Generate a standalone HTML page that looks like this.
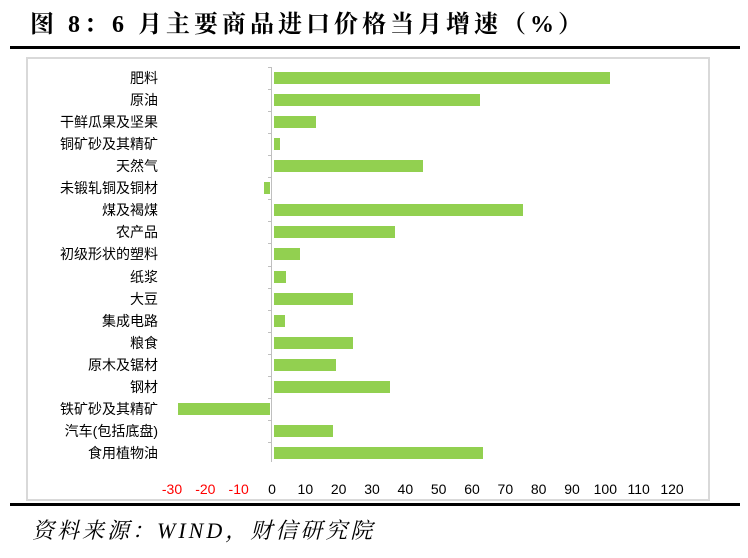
<!DOCTYPE html>
<html><head><meta charset="utf-8"><style>
body{margin:0;width:748px;height:558px;background:#fff;position:relative;overflow:hidden;font-family:"Liberation Sans","Noto Sans CJK SC",sans-serif;}
.t{position:absolute;left:30px;top:9px;font-family:"Liberation Serif","Noto Serif CJK SC",serif;font-weight:bold;font-size:24px;line-height:32px;color:#000;letter-spacing:4px;}
.hl{position:absolute;left:10px;width:730px;height:3px;background:#000;}
.box{position:absolute;left:26px;top:57px;width:684px;height:444px;border:2px solid #d9d9d9;box-sizing:border-box;}
.lab{position:absolute;font-size:14px;color:#000;white-space:nowrap;line-height:16px;}
.bar{position:absolute;height:12px;background:#92d050;}
.tk{position:absolute;top:481px;font-size:14px;width:40px;text-align:center;margin-left:-20px;}
.cap{position:absolute;left:32px;top:514px;font-family:"Liberation Serif","Noto Serif CJK SC",serif;font-style:italic;font-size:22px;letter-spacing:3px;}
</style></head><body>
<div class="t">图 8：6 月主要商品进口价格当月增速（%）</div>
<div class="hl" style="top:46px"></div>
<div class="box"></div>
<div class="hl" style="top:503px"></div>
<div style="position:absolute;left:271px;top:67px;width:1px;height:395px;background:#bfbfbf"></div>
<div id="c"></div>
<div class="cap">资料来源：WIND，财信研究院</div>
<script>
var d=[["肥料",101],["原油",62],["干鲜瓜果及坚果",13],["铜矿砂及其精矿",2],["天然气",45],["未锻轧铜及铜材",-2],["煤及褐煤",75],["农产品",36.5],["初级形状的塑料",8],["纸浆",4],["大豆",24],["集成电路",3.5],["粮食",24],["原木及锯材",19],["钢材",35],["铁矿砂及其精矿",-28],["汽车(包括底盘)",18],["食用植物油",63]];
var h="",z=272,s=500/150;
d.forEach(function(r,i){var y=78+i*22.06;
h+='<div class="lab" style="top:'+(y-8)+'px;right:'+(748-158)+'px">'+r[0]+'</div>';
var x=r[1]>=0?z+2:z+r[1]*s-1,w=Math.abs(r[1])*s-1;
h+='<div class="bar" style="top:'+(y-6)+'px;left:'+x+'px;width:'+w+'px"></div>';
h+='<div style="position:absolute;left:268px;top:'+(y-11)+'px;width:4px;height:1px;background:#bfbfbf"></div>';});
for(var v=-30;v<=120;v+=10){h+='<div class="tk" style="left:'+(z+v*s)+'px;color:'+(v<0?'#ff0000':'#000')+'">'+v+'</div>';}
document.getElementById("c").innerHTML=h;
</script>
</body></html>
